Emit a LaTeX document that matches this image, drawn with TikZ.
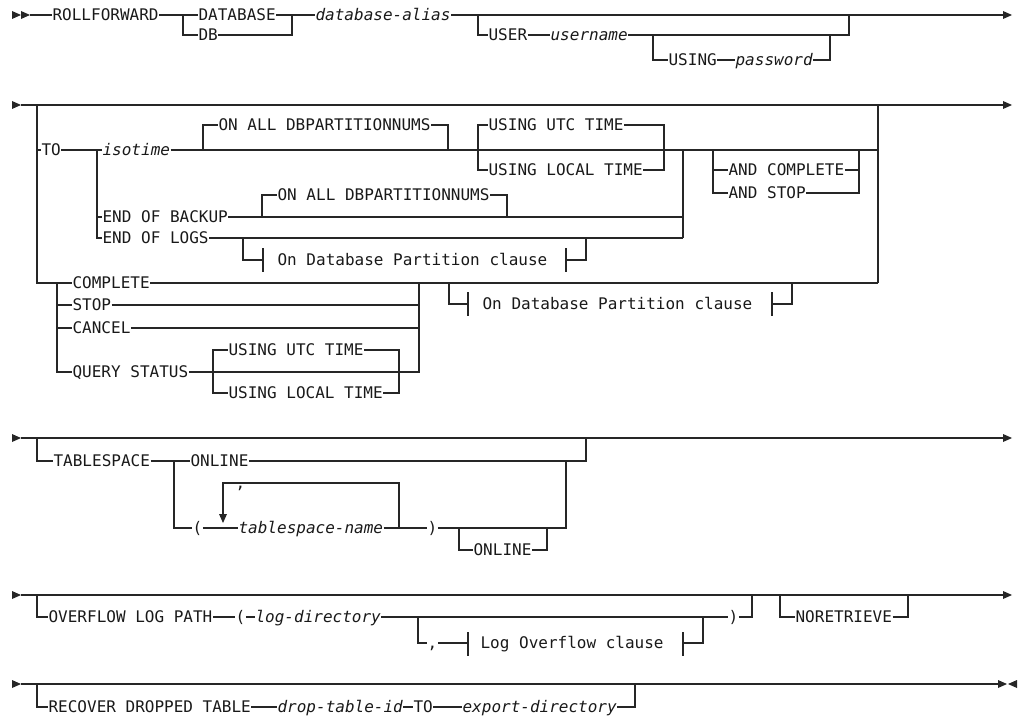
\documentclass[tikz,border=0pt]{standalone}
\usepackage{fontspec}
\newfontfamily\synfont{DejaVu Sans Mono}

\begin{document}
\begin{tikzpicture}[
    x=0.5pt, y=-0.5pt,
    line width=0.6pt, color=black!85,
    kw/.style={inner sep=0pt, text height=5.8pt, text depth=0pt, anchor=west,
               font=\synfont\fontsize{8}{8}\selectfont, text=black!90},
    var/.style={kw, font=\synfont\itshape\fontsize{8}{8}\selectfont},
    pics/tip/.style={code={\fill (0,-4) -- (9,0) -- (0,4) -- cycle;}},
  ]
  \useasboundingbox (0,0) rectangle (1023,717);

  % --- row 1: ROLLFORWARD DATABASE ---
  \pic at (12,15) {tip}; \pic at (21,15) {tip};
  \node[kw] (rf) at (52,15) {ROLLFORWARD};
  \node[kw] (dbase) at (198,15) {DATABASE};
  \node[kw] (db) at (198,35) {DB};
  \node[var] (alias) at (315,15) {database-alias};
  \node[kw] (user) at (488,35) {USER};
  \node[var] (uname) at (550,35) {username};
  \node[kw] (using) at (668,60) {USING};
  \node[var] (pwd) at (735,60) {password};
  \draw (30,15) -- (rf.west);
  \draw (rf.east) -- (dbase.west) (dbase.east) -- (alias.west);
  \draw (183,15) |- (db.west) (db.east) -| (292,15);
  \draw (alias.east) -- (1003,15); \pic at (1003,15) {tip};
  \draw (478,15) |- (user.west) (user.east) -- (uname.west) (uname.east) -| (849,15);
  \draw (653,35) |- (using.west) (using.east) -- (pwd.west) (pwd.east) -| (830,35);

  % --- row 2: TO / COMPLETE / STOP ... ---
  \pic at (12,105) {tip};
  \draw (21,105) -- (1003,105); \pic at (1003,105) {tip};
  \node[kw] (to) at (41,150) {TO};
  \node[var] (iso) at (102,150) {isotime};
  \draw (37,150) -- (to.west) (to.east) -- (iso.west) (iso.east) -- (878,150);
  \draw (878,105) -- (878,283);
  \node[kw] (onall) at (218,125) {ON ALL DBPARTITIONNUMS};
  \draw (203,150) |- (onall.west) (onall.east) -| (448,150);
  \node[kw] (utc) at (488,125) {USING UTC TIME};
  \node[kw] (local) at (488,170) {USING LOCAL TIME};
  \draw (478,150) |- (utc.west) (utc.east) -| (664,150);
  \draw (478,150) |- (local.west) (local.east) -| (664,150);
  \draw (683,150) -- (683,238);
  \node[kw] (andc) at (728,170) {AND COMPLETE};
  \node[kw] (ands) at (728,193) {AND STOP};
  \draw (713,150) |- (ands.west) (713,170) -- (andc.west);
  \draw (andc.east) -- (859,170) (ands.east) -| (859,150);
  % end of backup / logs
  \node[kw] (eob) at (102,217) {END OF BACKUP};
  \node[kw] (eol) at (102,238) {END OF LOGS};
  \draw (97,150) |- (eol.west) (97,217) -- (eob.west);
  \draw (eob.east) -- (683,217) (eol.east) -- (683,238);
  \node[kw] (onall2) at (277,195) {ON ALL DBPARTITIONNUMS};
  \draw (262,217) |- (onall2.west) (onall2.east) -| (507,217);
  \node[kw] (odp) at (277,260) {On Database Partition clause};
  \draw (243,238) |- (263,260) (263,248) -- (263,272);
  \draw (566,248) -- (566,272) (566,260) -| (586,238);
  % complete / stop / cancel / query status
  \node[kw] (cmp) at (72,283) {COMPLETE};
  \node[kw] (stop) at (72,305) {STOP};
  \node[kw] (cancel) at (72,328) {CANCEL};
  \node[kw] (qs) at (72,372) {QUERY STATUS};
  \draw (37,105) |- (cmp.west) (cmp.east) -- (878,283);
  \draw (57,283) |- (qs.west) (57,305) -- (stop.west) (57,328) -- (cancel.west);
  \draw (stop.east) -- (419,305) (cancel.east) -- (419,328) (qs.east) -| (419,283);
  \node[kw] (qutc) at (228,350) {USING UTC TIME};
  \node[kw] (qlocal) at (228,393) {USING LOCAL TIME};
  \draw (213,372) |- (qutc.west) (qutc.east) -| (399,372);
  \draw (213,372) |- (qlocal.west) (qlocal.east) -| (399,372);
  \node[kw] (odp2) at (482,304) {On Database Partition clause};
  \draw (449,283) |- (468,304) (468,292) -- (468,316);
  \draw (772,292) -- (772,316) (772,304) -| (792,283);

  % --- row 3: TABLESPACE ---
  \pic at (12,438) {tip};
  \draw (21,438) -- (1003,438); \pic at (1003,438) {tip};
  \node[kw] (ts) at (53,461) {TABLESPACE};
  \node[kw] (onl) at (190,461) {ONLINE};
  \draw (37,438) |- (ts.west) (ts.east) -- (onl.west) (onl.east) -| (586,438);
  \node[kw] (lp) at (192,528) {(};
  \node[var] (tsn) at (238,528) {tablespace-name};
  \node[kw] (rp) at (427,528) {)};
  \node[kw] (comma) at (235,483) {,};
  \draw (174,461) |- (lp.west) (lp.east) -- (tsn.west) (tsn.east) -- (rp.west);
  \draw (399,528) |- (223,483) -- (223,514); \pic[rotate=-90] at (223,514) {tip};
  \draw (rp.east) -| (566,461);
  \node[kw] (onl2) at (473,550) {ONLINE};
  \draw (459,528) |- (onl2.west) (onl2.east) -| (547,528);

  % --- row 4: OVERFLOW LOG PATH / NORETRIEVE ---
  \pic at (12,595) {tip};
  \draw (21,595) -- (1003,595); \pic at (1003,595) {tip};
  \node[kw] (olp) at (48,617) {OVERFLOW LOG PATH};
  \node[kw] (lp2) at (235,617) {(};
  \node[var] (ldir) at (255,617) {log-directory};
  \node[kw] (rp2) at (728,617) {)};
  \draw (37,595) |- (olp.west) (olp.east) -- (lp2.west) (lp2.east) -- (ldir.west);
  \draw (ldir.east) -- (rp2.west) (rp2.east) -| (752,595);
  \node[kw] (cm2) at (427,643) {,};
  \node[kw] (lof) at (480,643) {Log Overflow clause};
  \draw (418,617) |- (cm2.west) (cm2.east) -- (468,643) (468,632) -- (468,656);
  \draw (683,632) -- (683,656) (683,643) -| (703,617);
  \node[kw] (noret) at (795,617) {NORETRIEVE};
  \draw (780,595) |- (noret.west) (noret.east) -| (908,595);

  % --- row 5: RECOVER DROPPED TABLE ---
  \pic at (12,684) {tip};
  \draw (21,684) -- (998,684);
  \pic at (998,684) {tip}; \pic[xscale=-1] at (1017,684) {tip};
  \node[kw] (rdt) at (48,707) {RECOVER DROPPED TABLE};
  \node[var] (dtid) at (277,707) {drop-table-id};
  \node[kw] (to2) at (413,707) {TO};
  \node[var] (edir) at (462,707) {export-directory};
  \draw (37,684) |- (rdt.west) (rdt.east) -- (dtid.west) (dtid.east) -- (to2.west);
  \draw (to2.east) -- (edir.west) (edir.east) -| (635,684);
\end{tikzpicture}
\end{document}
